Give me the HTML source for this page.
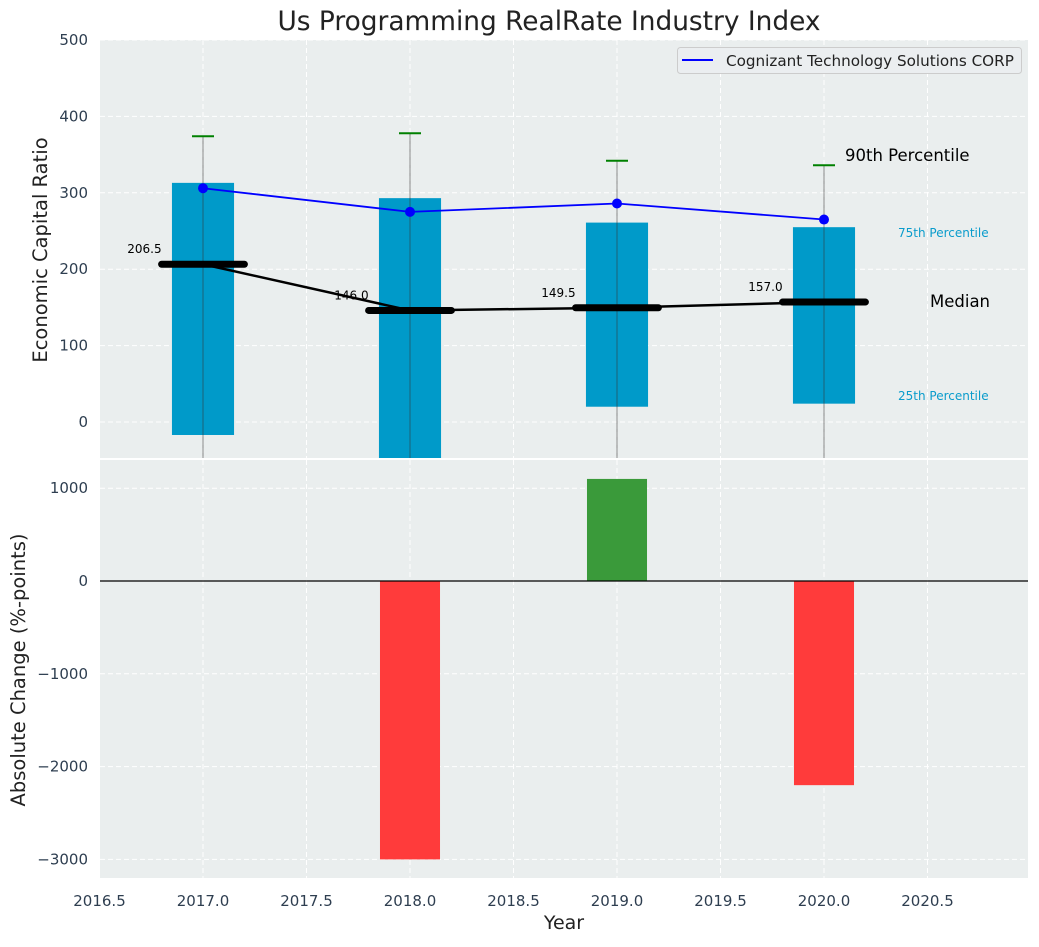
<!DOCTYPE html>
<html><head><meta charset="utf-8"><style>
body{margin:0;background:#fff;font-family:"Liberation Sans","DejaVu Sans",sans-serif}
svg text{font-family:"DejaVu Sans","Liberation Sans",sans-serif}
</style></head><body>
<svg id="c" width="1039" height="942" xmlns="http://www.w3.org/2000/svg"></svg>
<script>
const years=[2017,2018,2019,2020];
const q25=[-17,-60,20,24];
const q75=[313,293,261,255];
const p90=[374,378,342,336];
const medians=[206.5,146.0,149.5,157.0];
const company=[306,275,286,265];
const changes=[0,-3000,1100,-2200];
const xTicks=[2016.5,2017.0,2017.5,2018.0,2018.5,2019.0,2019.5,2020.0,2020.5];
const yTopTicks=[0,100,200,300,400,500];
const yBotTicks=[-3000,-2000,-1000,0,1000];

const NS="http://www.w3.org/2000/svg";
const svg=document.getElementById('c');
function el(t,a,p){const e=document.createElementNS(NS,t);for(const k in a)e.setAttribute(k,a[k]);(p||svg).appendChild(e);return e;}
const L=100,R=1028,T1=40,B1=458,T2=460,B2=878;
const x=v=>99.5+(v-2016.5)*207;
const yT=v=>422-v*0.764;
const yB=v=>581-v*0.0928;

let e=el('rect',{x:L,y:T1,width:R-L,height:B1-T1,fill:'#eaeeee'});

e=el('rect',{x:L,y:T2,width:R-L,height:B2-T2,fill:'#eaeeee'});


const clip=el('clipPath',{id:'ct'});el('rect',{x:L,y:T1,width:R-L,height:B1-T1},clip);
const clip2=el('clipPath',{id:'cb'});el('rect',{x:L,y:T2,width:R-L,height:B2-T2},clip2);
const gt=el('g',{'clip-path':'url(#ct)'});

const gb=el('g',{'clip-path':'url(#cb)'});


xTicks.forEach(v=>{
  el('line',{x1:x(v),x2:x(v),y1:T1,y2:B1,stroke:'#fff','stroke-dasharray':'5,3','stroke-width':1},gt);
  el('line',{x1:x(v),x2:x(v),y1:T2,y2:B2,stroke:'#fff','stroke-dasharray':'5,3','stroke-width':1},gb);
  const t=el('text',{x:x(v),y:906,'text-anchor':'middle','font-size':15,fill:'#2e3e50'});t.textContent=v.toFixed(1);
  
});
yTopTicks.forEach(v=>{
  el('line',{x1:L,x2:R,y1:yT(v),y2:yT(v),stroke:'#fff','stroke-dasharray':'5,3'},gt);
  const t=el('text',{x:88,y:yT(v)+5,'text-anchor':'end','font-size':15,fill:'#2e3e50'});t.textContent=v;
  
});
yBotTicks.forEach(v=>{
  el('line',{x1:L,x2:R,y1:yB(v),y2:yB(v),stroke:'#fff','stroke-dasharray':'5,3'},gb);
  const t=el('text',{x:88,y:yB(v)+5,'text-anchor':'end','font-size':15,fill:'#2e3e50'});t.textContent=(v<0?'\u2212'+(-v):v);
  
});

years.forEach((yr,i)=>{
  const b=el('rect',{x:x(yr-0.15),y:yT(q75[i]),width:0.3*207,height:yT(q25[i])-yT(q75[i]),fill:'#009ac9'},gt);
  
  const w=el('line',{x1:x(yr),x2:x(yr),y1:yT(p90[i]),y2:B1+5,stroke:'#333','stroke-opacity':0.55,'stroke-width':1},gt);
  
  const c=el('line',{x1:x(yr)-11,x2:x(yr)+11,y1:yT(p90[i]),y2:yT(p90[i]),stroke:'#008000','stroke-width':2},gt);
  
});
let pts=years.map((yr,i)=>x(yr)+','+yT(medians[i])).join(' ');
e=el('polyline',{points:pts,fill:'none',stroke:'#000','stroke-width':2.5},gt);

years.forEach((yr,i)=>{
  const m=el('line',{x1:x(yr-0.2),x2:x(yr+0.2),y1:yT(medians[i]),y2:yT(medians[i]),stroke:'#000','stroke-width':7,'stroke-linecap':'round'},gt);
  
  const t=el('text',{x:x(yr-0.2),y:yT(medians[i])-11,'text-anchor':'end','font-size':12,fill:'#000'},gt);t.textContent=medians[i].toFixed(1);
  
});
pts=years.map((yr,i)=>x(yr)+','+yT(company[i])).join(' ');
e=el('polyline',{points:pts,fill:'none',stroke:'#0000ff','stroke-width':1.8},gt);

years.forEach((yr,i)=>{
  const p=el('circle',{cx:x(yr),cy:yT(company[i]),r:5,fill:'#0000ff'},gt);
  
});
function txt(s,xx,yy,sz,col,name){const t=el('text',{x:xx,y:yy,'font-size':sz,fill:col});t.textContent=s;return t;}
txt('90th Percentile',845,161,16.5,'#000','p90-annotation');
txt('75th Percentile',898,237,12,'#0a9ccc','p75-annotation');
txt('Median',930,307,16.5,'#000','median-annotation');
txt('25th Percentile',898,400,12,'#0a9ccc','p25-annotation');
const lg=el('g',{});
el('rect',{x:677.5,y:47.5,width:344,height:26,rx:3,fill:'#ebeef0',stroke:'#ccc'},lg);
el('line',{x1:682,x2:713,y1:60,y2:60,stroke:'#0000ff','stroke-width':2},lg);
const lt=el('text',{x:726,y:66,'font-size':15.2,fill:'#222'},lg);lt.textContent='Cognizant Technology Solutions CORP';


years.forEach((yr,i)=>{
  const v=changes[i];if(!v)return;
  const b=el('rect',{x:x(yr-0.145),y:Math.min(yB(0),yB(v)),width:0.29*207,height:Math.abs(yB(v)-yB(0)),fill:v<0?'#ff3b3b':'#3a9a3a'},gb);
  
});
e=el('line',{x1:L,x2:R,y1:yB(0),y2:yB(0),stroke:'#000','stroke-width':1.2},gb);


let t=el('text',{x:549,y:30,'text-anchor':'middle','font-size':26.4,fill:'#222'});t.textContent='Us Programming RealRate Industry Index';

t=el('text',{x:47,y:250,'text-anchor':'middle','font-size':19.5,fill:'#222',transform:'rotate(-90 47 250)'});t.textContent='Economic Capital Ratio';

t=el('text',{x:25,y:670,'text-anchor':'middle','font-size':19.5,fill:'#222',transform:'rotate(-90 25 670)'});t.textContent='Absolute Change (%-points)';

t=el('text',{x:564,y:929,'text-anchor':'middle','font-size':19,fill:'#222'});t.textContent='Year';

</script>
</body></html>
